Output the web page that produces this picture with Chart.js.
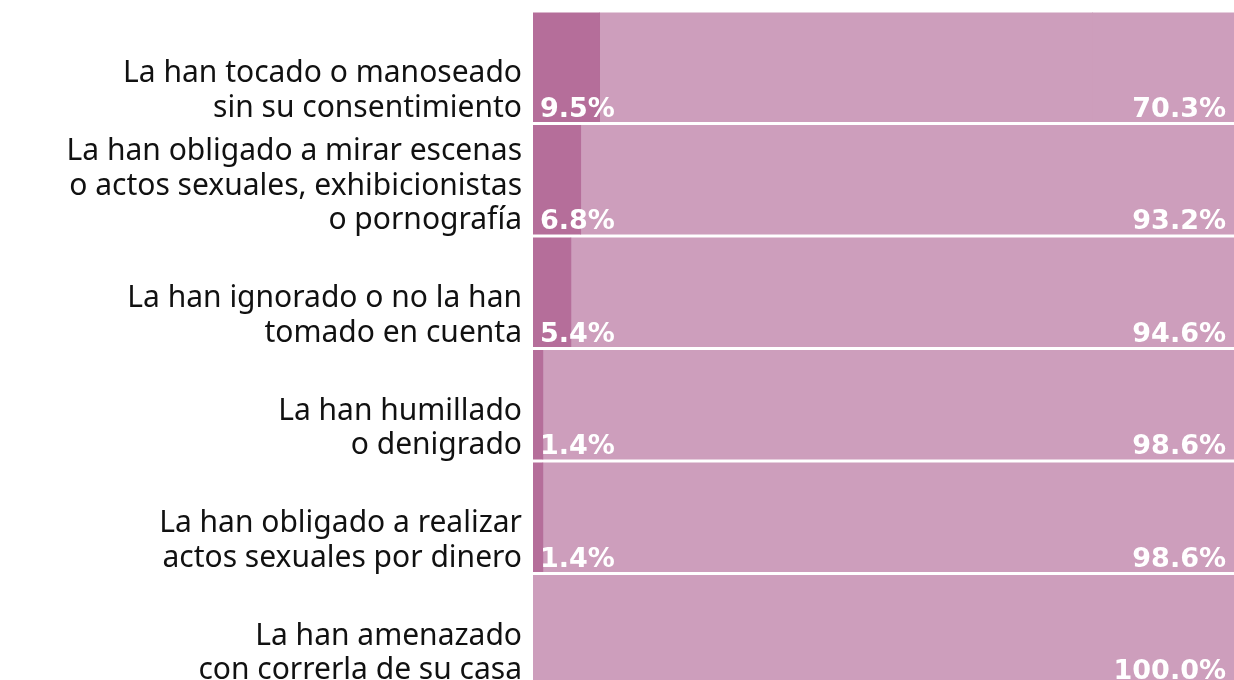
<!DOCTYPE html>
<html lang="es">
<head>
  <meta charset="UTF-8">
  <title>Violencia sexual</title>
  <script src="https://cdn.jsdelivr.net/npm/chart.js"></script>
  <style>
    html, body {
      margin: 0;
      padding: 0;
      background: #ffffff;
      overflow: hidden;
    }
    .chart-box {
      position: relative;
      width: 1234px;
      height: 686px;
    }
  </style>
</head>
<body>
  <div class="chart-box">
    <canvas id="barChart"></canvas>
  </div>
  <script>
    const categories = [
      ["La han tocado o manoseado", "sin su consentimiento"],
      ["La han obligado a mirar escenas", "o actos sexuales, exhibicionistas", "o pornografía"],
      ["La han ignorado o no la han", "tomado en cuenta"],
      ["La han humillado", "o denigrado"],
      ["La han obligado a realizar", "actos sexuales por dinero"],
      ["La han amenazado", "con correrla de su casa"]
    ];
    const siValues = [9.5, 6.8, 5.4, 1.4, 1.4, 0];
    const noValues = [70.3, 93.2, 94.6, 98.6, 98.6, 100.0];
    const restValues = [20.2, 0, 0, 0, 0, 0];

    const darkPink = '#b56e9a';
    const lightPink = '#cd9ebc';

    // category labels, bottom aligned with each bar
    const sideLabels = {
      id: 'sideLabels',
      afterDatasetsDraw(chart) {
        const ctx = chart.ctx;
        const meta = chart.getDatasetMeta(0);
        ctx.save();
        ctx.font = '30px "Noto Sans", sans-serif';
        ctx.fillStyle = '#111111';
        ctx.textAlign = 'right';
        ctx.textBaseline = 'alphabetic';
        meta.data.forEach((bar, i) => {
          const lines = categories[i];
          const bottom = bar.y + bar.height / 2;
          lines.forEach((line, j) => {
            const y = bottom - 5 - (lines.length - 1 - j) * 34.5;
            ctx.fillText(line, 522, y);
          });
        });
        ctx.restore();
      }
    };

    // white percentages inside the bars
    const valueLabels = {
      id: 'valueLabels',
      afterDatasetsDraw(chart) {
        const ctx = chart.ctx;
        const area = chart.chartArea;
        const meta = chart.getDatasetMeta(0);
        ctx.save();
        ctx.font = 'bold 27px "DejaVu Sans", sans-serif';
        ctx.fillStyle = '#ffffff';
        ctx.textBaseline = 'alphabetic';
        meta.data.forEach((bar, i) => {
          const y = bar.y + bar.height / 2 - 5;
          if (siValues[i] > 0) {
            ctx.textAlign = 'left';
            ctx.fillText(siValues[i].toFixed(1) + '%', area.left + 7, y);
          }
          ctx.textAlign = 'right';
          ctx.fillText(noValues[i].toFixed(1) + '%', area.right - 8, y);
        });
        ctx.restore();
      }
    };

    new Chart(document.getElementById('barChart'), {
      type: 'bar',
      data: {
        labels: categories,
        datasets: [
          { label: 'Sí', data: siValues, backgroundColor: darkPink },
          { label: 'No', data: noValues, backgroundColor: lightPink },
          { label: 'No contesta', data: restValues, backgroundColor: lightPink }
        ]
      },
      options: {
        indexAxis: 'y',
        responsive: true,
        maintainAspectRatio: false,
        animation: false,
        layout: { padding: { left: 533, right: 0, top: 11, bottom: 0 } },
        datasets: {
          bar: {
            barPercentage: 1,
            categoryPercentage: 0.968,
            borderWidth: 0,
            // small overlap hides the seam between segments; none for empty ones
            inflateAmount: (c) => (c.raw ? 0.4 : 0)
          }
        },
        scales: {
          x: { stacked: true, min: 0, max: 100, display: false },
          y: { stacked: true, display: false }
        },
        plugins: {
          legend: { display: false },
          tooltip: { enabled: false }
        }
      },
      plugins: [sideLabels, valueLabels]
    });
  </script>
</body>
</html>
